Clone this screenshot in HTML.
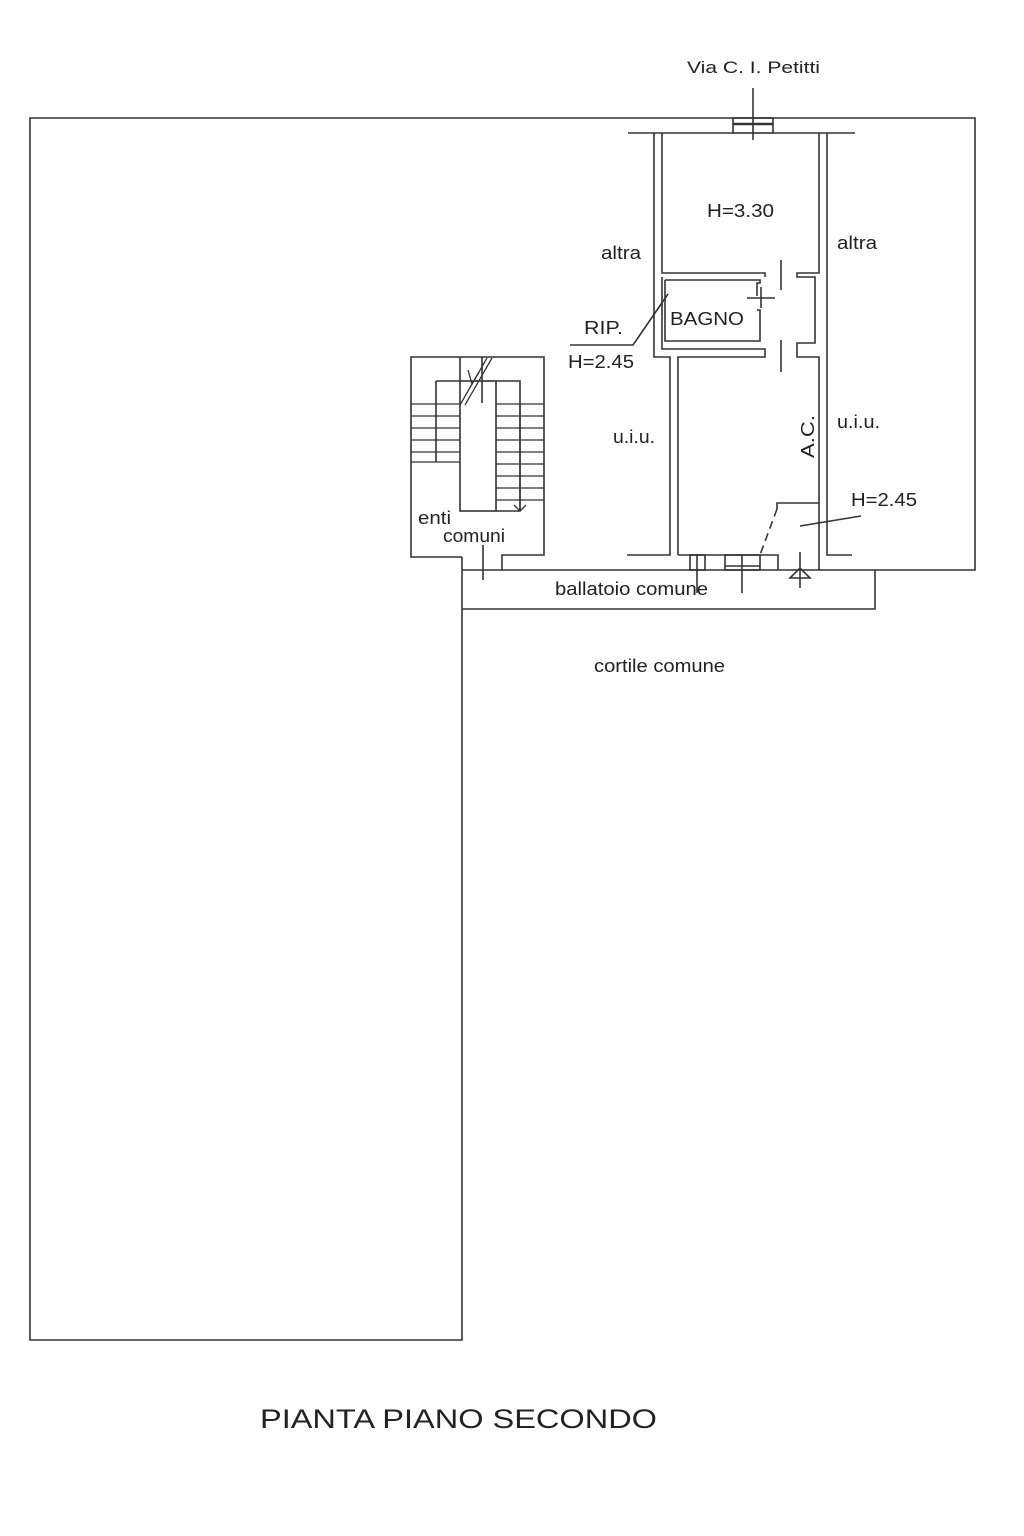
<!DOCTYPE html><html><head><style>body{margin:0;background:#fff}svg{display:block}text{font-family:"Liberation Sans",sans-serif;fill:#222}</style></head><body>
<svg width="1024" height="1536" viewBox="0 0 1024 1536" xmlns="http://www.w3.org/2000/svg" fill="none" stroke="#333" stroke-width="1.6">
<polyline points="462,557 462,1340 30,1340 30,118 975,118 975,570 828,570"/>
<line x1="753" y1="88" x2="753" y2="140"/>
<rect x="733" y="118" width="40" height="15"/>
<line x1="733" y1="124" x2="773" y2="124" stroke-width="2.5"/>
<line x1="628" y1="133" x2="733" y2="133"/><line x1="773" y1="133" x2="855" y2="133"/>
<polyline points="654,133 654,357 670,357 670,555 627,555"/>
<polyline points="662,133 662,273 765,273 765,277"/>
<polyline points="662,277 662,349 765,349 765,357 678,357 678,555"/>
<polyline points="665,280 760,280 760,283 757,283 757,296"/>
<polyline points="757,310 760,310 760,341 665,341 665,280"/>
<line x1="747" y1="298" x2="775" y2="298"/><line x1="761" y1="287" x2="761" y2="308"/>
<line x1="781" y1="260" x2="781" y2="290"/><line x1="781" y1="340" x2="781" y2="372"/>
<polyline points="819,133 819,273 797,273 797,277 815,277 815,343 797,343 797,357 819,357 819,570"/>
<polyline points="827,133 827,555 852,555"/>
<polyline points="777,509 777,503 819,503"/>
<line x1="777" y1="509" x2="760" y2="555" stroke-dasharray="8,5"/>
<line x1="800" y1="526" x2="861" y2="516"/>
<polyline points="678,555 778,555 778,570"/>
<polyline points="502,557 502,570 828,570"/>
<polyline points="462,609 875,609 875,570"/>
<rect x="690" y="555" width="15" height="15"/><line x1="697" y1="555" x2="697" y2="593"/>
<rect x="725" y="555" width="35" height="15"/><line x1="742" y1="555" x2="742" y2="593"/>
<line x1="725" y1="566" x2="760" y2="566"/>
<line x1="800" y1="552" x2="800" y2="588"/>
<polygon points="790,578 810,578 800,568"/>
<polyline points="462,557 411,557 411,357 544,357 544,555 502,555 502,557"/>
<line x1="462" y1="570" x2="502" y2="570"/><line x1="483" y1="545" x2="483" y2="580"/>
<rect x="460" y="381" width="36" height="130"/>
<polyline points="436,381 460,381"/><polyline points="496,381 520,381 520,511 496,511"/>
<line x1="436" y1="381" x2="436" y2="462"/>
<line x1="460" y1="357" x2="460" y2="381"/><line x1="482" y1="357" x2="482" y2="403"/>
<g stroke-width="1.3">
<line x1="411" y1="404" x2="460" y2="404"/><line x1="411" y1="416" x2="460" y2="416"/><line x1="411" y1="428" x2="460" y2="428"/><line x1="411" y1="440" x2="460" y2="440"/><line x1="411" y1="452" x2="460" y2="452"/><line x1="411" y1="462" x2="460" y2="462"/>
<line x1="496" y1="404" x2="544" y2="404"/><line x1="496" y1="416" x2="544" y2="416"/><line x1="496" y1="428" x2="544" y2="428"/><line x1="496" y1="440" x2="544" y2="440"/><line x1="496" y1="452" x2="544" y2="452"/><line x1="496" y1="464" x2="544" y2="464"/><line x1="496" y1="476" x2="544" y2="476"/><line x1="496" y1="488" x2="544" y2="488"/><line x1="496" y1="500" x2="544" y2="500"/>
<line x1="520" y1="404" x2="520" y2="511"/>
<line x1="460" y1="405" x2="487" y2="358"/><line x1="465" y1="405" x2="492" y2="358"/>
<polyline points="468,370 472,384 479,372"/><polyline points="514,505 520,511 526,505"/>
</g>
<polyline points="570,345 633,345 668,294"/>
<g stroke="none" lengthAdjust="spacingAndGlyphs">
<text x="687" y="73" font-size="17" textLength="133" lengthAdjust="spacingAndGlyphs">Via C. I. Petitti</text>
<text x="707" y="217" font-size="18" textLength="67" lengthAdjust="spacingAndGlyphs">H=3.30</text>
<text x="601" y="259" font-size="18" textLength="40" lengthAdjust="spacingAndGlyphs">altra</text>
<text x="837" y="249" font-size="18" textLength="40" lengthAdjust="spacingAndGlyphs">altra</text>
<text x="670" y="325" font-size="18" textLength="74" lengthAdjust="spacingAndGlyphs">BAGNO</text>
<text x="584" y="334" font-size="18" textLength="39" lengthAdjust="spacingAndGlyphs">RIP.</text>
<text x="568" y="368" font-size="18" textLength="66" lengthAdjust="spacingAndGlyphs">H=2.45</text>
<text x="613" y="443" font-size="18" textLength="42" lengthAdjust="spacingAndGlyphs">u.i.u.</text>
<text x="837" y="428" font-size="18" textLength="43" lengthAdjust="spacingAndGlyphs">u.i.u.</text>
<text x="851" y="506" font-size="18" textLength="66" lengthAdjust="spacingAndGlyphs">H=2.45</text>
<text transform="translate(814,458) rotate(-90)" font-size="18" textLength="43" lengthAdjust="spacingAndGlyphs">A.C.</text>
<text x="418" y="524" font-size="18" textLength="33" lengthAdjust="spacingAndGlyphs">enti</text>
<text x="443" y="542" font-size="18" textLength="62" lengthAdjust="spacingAndGlyphs">comuni</text>
<text x="555" y="595" font-size="18" textLength="153" lengthAdjust="spacingAndGlyphs">ballatoio comune</text>
<text x="594" y="672" font-size="18" textLength="131" lengthAdjust="spacingAndGlyphs">cortile comune</text>
<text x="260" y="1428" font-size="27" fill="#333" textLength="397" lengthAdjust="spacingAndGlyphs">PIANTA PIANO SECONDO</text>
</g>
</svg>
</body></html>
